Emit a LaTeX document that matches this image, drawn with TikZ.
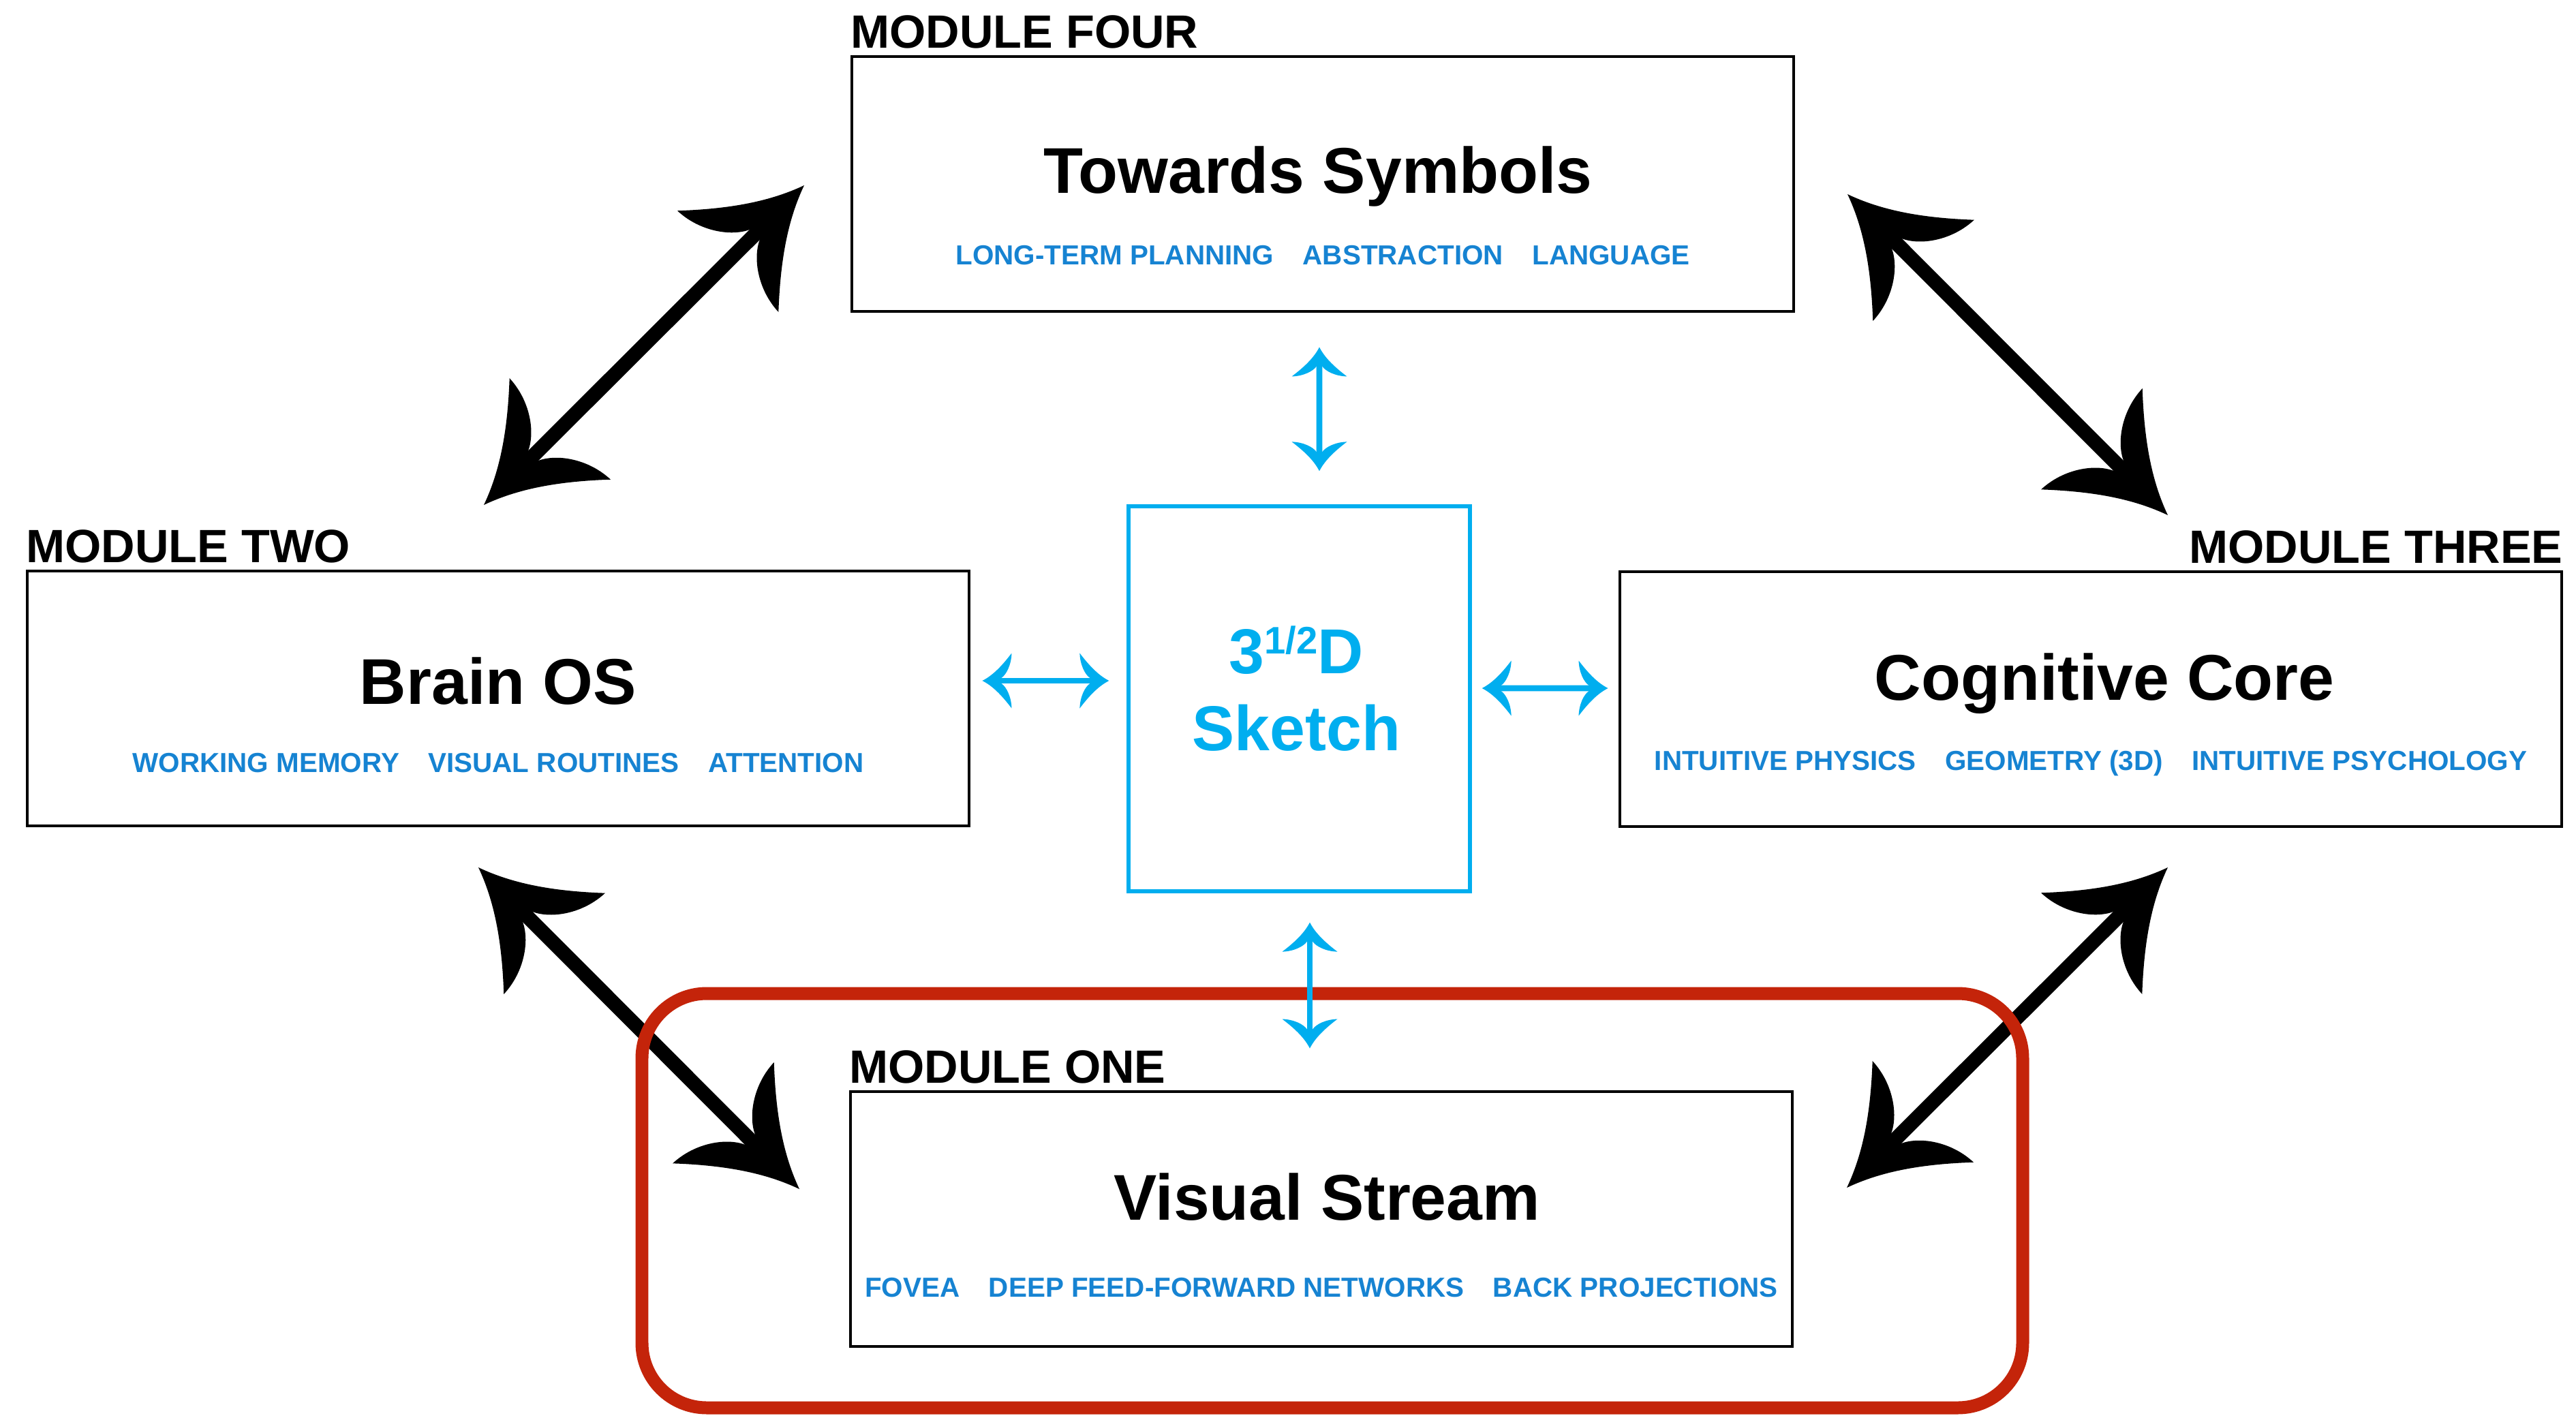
\documentclass[tikz,border=0pt]{standalone}
\usepackage{fontspec}
\setmainfont{Liberation Sans}
\usepackage{xcolor}
\usetikzlibrary{arrows.meta}

\definecolor{topicblue}{RGB}{22,131,210}
\definecolor{sketchcyan}{RGB}{0,174,239}
\definecolor{focusred}{RGB}{196,36,10}

% swept arrow head with hooked barbs
\pgfdeclarearrow{
  name = Barb,
  parameters = {\the\pgfarrowlength,\the\pgfarrowwidth},
  setup code = {
    \pgfarrowssettipend{0pt}
    \pgfarrowssetlineend{-.5\pgfarrowlength}
    \pgfarrowssetbackend{-\pgfarrowlength}
    \pgfarrowssavethe\pgfarrowlength
    \pgfarrowssavethe\pgfarrowwidth
  },
  drawing code = {
    \pgfpathmoveto{\pgfqpoint{0pt}{0pt}}
    \pgfpathcurveto{\pgfpoint{-.32\pgfarrowlength}{.086\pgfarrowwidth}}
      {\pgfpoint{-.63\pgfarrowlength}{.24\pgfarrowwidth}}
      {\pgfpoint{-\pgfarrowlength}{.5\pgfarrowwidth}}
    \pgfpathcurveto{\pgfpoint{-.99\pgfarrowlength}{.29\pgfarrowwidth}}
      {\pgfpoint{-.82\pgfarrowlength}{.11\pgfarrowwidth}}
      {\pgfpoint{-.65\pgfarrowlength}{.05\pgfarrowwidth}}
    \pgfpathlineto{\pgfpoint{-.65\pgfarrowlength}{-.05\pgfarrowwidth}}
    \pgfpathcurveto{\pgfpoint{-.82\pgfarrowlength}{-.11\pgfarrowwidth}}
      {\pgfpoint{-.99\pgfarrowlength}{-.29\pgfarrowwidth}}
      {\pgfpoint{-\pgfarrowlength}{-.5\pgfarrowwidth}}
    \pgfpathcurveto{\pgfpoint{-.63\pgfarrowlength}{-.24\pgfarrowwidth}}
      {\pgfpoint{-.32\pgfarrowlength}{-.086\pgfarrowwidth}}
      {\pgfqpoint{0pt}{0pt}}
    \pgfpathclose
    \pgfusepathqfill
  },
  defaults = {length=1cm, width=1.3cm}
}

\newcommand{\topicgap}{\hspace{1.05em}}

\tikzset{
  module/.style={draw, line width=1.4pt, minimum width=13.82cm, minimum height=3.74cm, inner sep=0pt},
  modlabel/.style={inner sep=0pt, font=\fontsize{19.5}{20}\selectfont\bfseries},
  modtitle/.style={inner sep=0pt, anchor=base, font=\fontsize{27}{30}\selectfont\bfseries},
  modtopics/.style={inner sep=0pt, anchor=base, text=topicblue, font=\fontsize{11.5}{12}\selectfont\bfseries},
  sketchbox/.style={draw=sketchcyan, line width=1.5pt, minimum width=5.01cm, minimum height=5.65cm, inner sep=0pt},
  sketchtext/.style={inner sep=0pt, align=center, text=sketchcyan, font=\fontsize{26.5}{32}\selectfont\bfseries},
  bigarrow/.style={line width=6pt, >={Barb[length=1.58cm,width=2.1cm]}, <->},
  linkarrow/.style={sketchcyan, line width=2.5pt, >={Barb[length=0.43cm,width=0.81cm]}, <->},
  focusframe/.style={draw=focusred, line width=5.4pt, rounded corners=0.95cm, minimum width=20.26cm, minimum height=6.08cm}
}

\begin{document}
\begin{tikzpicture}
  \useasboundingbox (0,0) rectangle (37.8,-20.81);

  % modules
  \node[module] (four) at (19.41,-2.70) {};
  \node[module] (two) at (7.31,-10.25) {};
  \node[module] (three) at (30.68,-10.26) {};
  \node[module] (one) at (19.39,-17.89) {};
  \node[sketchbox] (sketch) at (19.065,-10.255) {};

  \node[modlabel, anchor=base west] (fourlabel) at ([yshift=0.1cm]four.north west) {MODULE FOUR};
  \node[modlabel, anchor=base west] (twolabel) at ([yshift=0.1cm]two.north west) {MODULE TWO};
  \node[modlabel, anchor=base east] (threelabel) at ([yshift=0.1cm]three.north east) {MODULE THREE};
  \node[modlabel, anchor=base west] (onelabel) at ([yshift=0.1cm]one.north west) {MODULE ONE};

  \node[modtitle] (fourtitle) at ([xshift=-0.07cm, yshift=-0.13cm]four.center) {Towards Symbols};
  \node[modtopics] (fourtopics) at ([yshift=-1.18cm]four.center)
    {LONG-TERM PLANNING\topicgap ABSTRACTION\topicgap LANGUAGE};
  \node[modtitle] (twotitle) at ([yshift=-0.08cm]two.center) {Brain OS};
  \node[modtopics] (twotopics) at ([yshift=-1.08cm]two.center)
    {WORKING MEMORY\topicgap VISUAL ROUTINES\topicgap ATTENTION};
  \node[modtitle] (threetitle) at ([xshift=0.2cm, yshift=-0.01cm]three.center) {Cognitive Core};
  \node[modtopics] (threetopics) at ([yshift=-1.04cm]three.center)
    {INTUITIVE PHYSICS\topicgap GEOMETRY (3D)\topicgap INTUITIVE PSYCHOLOGY};
  \node[modtitle] (onetitle) at ([xshift=0.08cm, yshift=-0.01cm]one.center) {Visual Stream};
  \node[modtopics] (onetopics) at ([yshift=-1.14cm]one.center)
    {FOVEA\topicgap DEEP FEED-FORWARD NETWORKS\topicgap BACK PROJECTIONS};

  \node[sketchtext] (sketchtxt) at ([xshift=-0.04cm, yshift=0.15cm]sketch.center)
    {3\raisebox{0.31em}{\fontsize{16}{16}\selectfont 1/2}D\\Sketch};

  % black links between modules
  \coordinate (tl1) at (7.10,-7.41);
  \coordinate (tl2) at (11.80,-2.72);
  \coordinate (tr1) at (27.11,-2.85);
  \coordinate (tr2) at (31.81,-7.56);
  \coordinate (bl1) at (7.02,-12.73);
  \coordinate (bl2) at (11.73,-17.45);
  \coordinate (br1) at (31.81,-12.73);
  \coordinate (br2) at (27.10,-17.43);
  \draw[bigarrow] (tl1) -- (tl2);
  \draw[bigarrow] (tr1) -- (tr2);
  \draw[bigarrow] (bl1) -- (bl2);
  \draw[bigarrow] (br1) -- (br2);

  \node[focusframe] (focus) at (19.55,-17.62) {};

  % links to the sketch
  \draw[linkarrow, shorten <=0.17cm, shorten >=0.26cm]
    ([yshift=0.26cm]two.east) -- ([yshift=0.265cm]sketch.west);
  \draw[linkarrow, shorten <=0.15cm, shorten >=0.15cm]
    ([yshift=0.155cm]sketch.east) -- ([yshift=0.16cm]three.west);
  \draw[linkarrow, shorten <=0.50cm, shorten >=0.49cm]
    ([xshift=-0.05cm]four.south) -- ([xshift=0.295cm]sketch.north);
  \draw[linkarrow, shorten <=0.43cm, shorten >=0.61cm]
    ([xshift=0.155cm]sketch.south) -- ([xshift=-0.17cm]one.north);
\end{tikzpicture}
\end{document}
